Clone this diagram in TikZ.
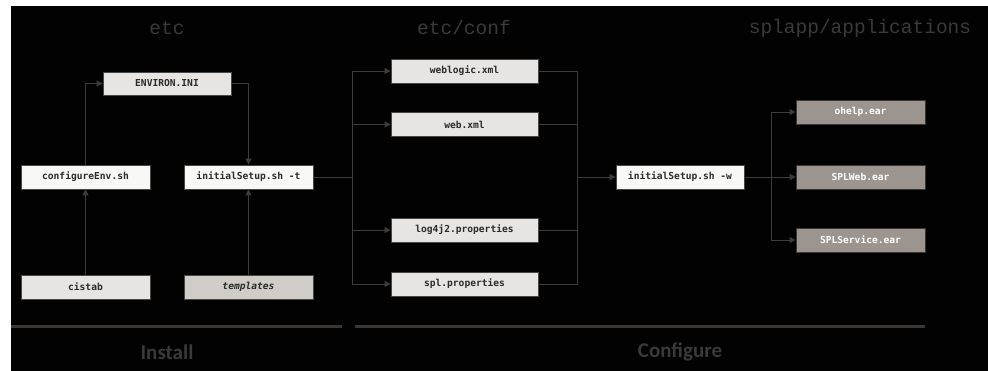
\documentclass[tikz,border=0pt]{standalone}
\usepackage{fontspec}
\setmainfont{Carlito}
\newfontfamily\boxmono{DejaVu Sans Mono}
\newfontfamily\hdrmono{Liberation Mono}
\usetikzlibrary{arrows.meta}
\definecolor{bgblack}{HTML}{020202}
\definecolor{linec}{HTML}{3C3C3C}
\definecolor{hdrc}{HTML}{3A3A3A}
\definecolor{sepc}{HTML}{3A3633}
\definecolor{boxedge}{HTML}{4A4643}
\definecolor{fwhite}{HTML}{F8F8F6}
\definecolor{flight}{HTML}{E6E5E3}
\definecolor{ftpl}{HTML}{D0CCC8}
\definecolor{fear}{HTML}{9C958F}
\definecolor{txtc}{HTML}{2A2A2A}
\tikzset{
  filebox/.style={draw=boxedge, line width=0.8pt, inner sep=0pt, minimum height=24pt,
    font=\boxmono\bfseries\fontsize{9.6}{11}\selectfont, text=txtc},
  whitebox/.style={filebox, fill=fwhite, minimum width=129pt},
  lightbox/.style={filebox, fill=flight, minimum width=129pt},
  confbox/.style={filebox, fill=flight, minimum width=147pt},
  tplbox/.style={filebox, fill=ftpl, minimum width=129pt, font=\boxmono\bfseries\itshape\fontsize{9.6}{11}\selectfont},
  earbox/.style={filebox, fill=fear, minimum width=129pt, text=white, draw=sepc},
  conn/.style={draw=linec, line width=0.8pt},
  arr/.style={conn, -{Triangle[length=6pt,width=6pt]}},
  hdr/.style={font=\hdrmono\fontsize{19.5}{22}\selectfont, text=hdrc},
  phase/.style={font=\bfseries\fontsize{21}{24}\selectfont, text=hdrc},
  sep/.style={draw=sepc, line width=3pt}
}
\begin{document}
\begin{tikzpicture}[x=1pt,y=-1pt]
\useasboundingbox (0,0) rectangle (988,371);
\fill[white] (0,0) rectangle (988,371);
\fill[bgblack] (11,6) rectangle (988,371);

% headers
\node[hdr] (hEtc) at (167,28) {etc};
\node[hdr] (hConf) at (464,28) {etc/conf};
\node[hdr] (hApp) at (860,28) {splapp/applications};

% install column
\node[lightbox, minimum width=128pt, minimum height=23pt] (env) at (167,83.5) {ENVIRON.INI};
\node[whitebox] (cfg) at (85.5,177) {configureEnv.sh};
\node[whitebox] (ist) at (248.5,177) {initialSetup.sh -t};
\node[lightbox] (cis) at (85.5,287) {cistab};
\node[tplbox] (tpl) at (248.5,287) {templates};

% conf column
\node[confbox] (wl) at (464.5,71) {weblogic.xml};
\node[confbox] (web) at (464.5,124.5) {web.xml};
\node[confbox] (log) at (464.5,230) {log4j2.properties};
\node[confbox] (spl) at (464.5,284) {spl.properties};

\node[whitebox, minimum width=128pt] (isw) at (680,177) {initialSetup.sh -w};

% applications
\node[earbox] (oh) at (860.5,112) {ohelp.ear};
\node[earbox] (sw) at (860.5,177) {SPLWeb.ear};
\node[earbox] (ss) at (860.5,240) {SPLService.ear};

% bus coordinates
\coordinate (busL) at (352,177);
\coordinate (busR) at (577,177);
\coordinate (busE) at (771,177);

% install connectors
\draw[arr] (cfg.north) |- (env.west);
\draw[arr] (env.east) -| (ist.north);
\draw[arr] (cis.north) -- (cfg.south);
\draw[arr] (tpl.north) -- (ist.south);

% to conf
\draw[conn] (ist.east) -- (busL);
\draw[arr] (busL) |- (wl.west);
\draw[arr] (busL) |- (web.west);
\draw[arr] (busL) |- (log.west);
\draw[arr] (busL) |- (spl.west);

% from conf
\draw[conn] (wl.east) -| (busR);
\draw[conn] (web.east) -| (busR);
\draw[conn] (log.east) -| (busR);
\draw[conn] (spl.east) -| (busR);
\draw[arr] (busR) -- (isw.west);

% to apps
\draw[arr] (isw.east) -- (sw.west);
\draw[arr] (busE) |- (oh.west);
\draw[arr] (busE) |- (ss.west);

% phase separators
\coordinate (s1a) at (11,327);
\coordinate (s1b) at (342,327);
\coordinate (s2a) at (355,327);
\coordinate (s2b) at (925,327);
\draw[sep] (s1a) -- (s1b);
\draw[sep] (s2a) -- (s2b);
\node[phase] (pInstall) at (167,352) {Install};
\node[phase] (pConf) at (680,352) {Configure};
\end{tikzpicture}
\end{document}
